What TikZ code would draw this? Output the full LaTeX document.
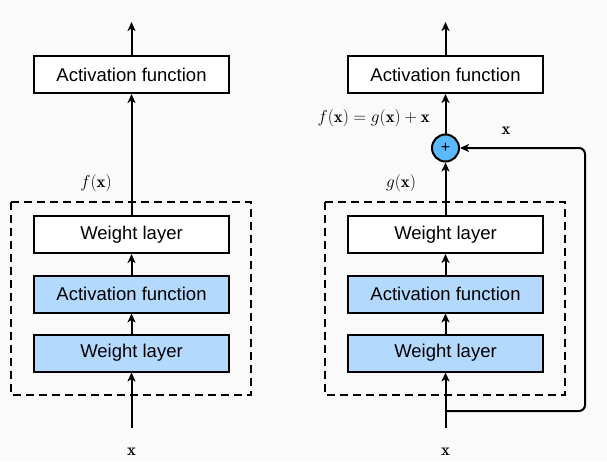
\documentclass[tikz,border=0pt]{standalone}
\usepackage{fontspec}
\setsansfont{Liberation Sans}
\usepackage{amsmath,bm}
\usetikzlibrary{arrows.meta}
\definecolor{bg}{HTML}{FAFAFA}
\definecolor{lblue}{HTML}{B3D9FF}
\definecolor{cblue}{HTML}{5CB8FF}
\begin{document}
\begin{tikzpicture}[x=1pt,y=-1pt,
  box/.style={draw=black,line width=2pt,minimum width=195pt,minimum height=37pt,inner sep=0pt,font=\sffamily\fontsize{18.5}{20}\selectfont},
  bbox/.style={box,fill=lblue},
  wbox/.style={box,fill=white},
  arr/.style={line width=2pt,-{Stealth[length=9pt,width=8pt,inset=2.5pt]}},
  dbox/.style={draw,line width=1.8pt,dash pattern=on 8pt off 5pt},
  lab/.style={font=\fontsize{16.8}{18}\selectfont,inner sep=0pt}]
\fill[bg] (0,0) rectangle (607,461);
\useasboundingbox (0,0) rectangle (607,461);
% left
\draw[dbox] (11,202) rectangle (251,395);
\node[wbox] (LA) at (131.5,74.5) {Activation function};
\node[wbox] (LW2) at (131.5,234.5) {Weight layer};
\node[bbox] (LAF) at (131.5,294) {Activation function};
\node[bbox] (LW1) at (131.5,353) {Weight layer};
\coordinate (Lin) at (131.5,428);
\coordinate (Lout) at (131.5,22);
\node[lab] (Lx) at (131.5,452) {$\mathbf{x}$};
\node[lab] (Lf) at (96,183) {$f(\mathbf{x})$};
\draw[arr] (Lin) -- (LW1);
\draw[arr] (LW1) -- (LAF);
\draw[arr] (LAF) -- (LW2);
\draw[arr] (LW2) -- (LA);
\draw[arr] (LA) -- (Lout);
% right
\draw[dbox] (325,202) rectangle (565,395);
\node[wbox] (RA) at (445.5,74.5) {Activation function};
\node[wbox] (RW2) at (445.5,234.5) {Weight layer};
\node[bbox] (RAF) at (445.5,294) {Activation function};
\node[bbox] (RW1) at (445.5,353) {Weight layer};
\node[circle,draw,line width=2pt,fill=cblue,minimum size=27pt,inner sep=0pt,font=\sffamily\fontsize{16}{16}\selectfont] (P) at (445.5,148) {+};
\coordinate (Rin) at (445.5,428);
\coordinate (Rout) at (445.5,22);
\coordinate (Rs) at (445.5,411);
\coordinate (Rc1) at (585,411);
\coordinate (Rc2) at (585,148);
\node[lab] (Rx) at (445.5,452) {$\mathbf{x}$};
\node[lab,anchor=east] (Rf) at (430,118) {$f(\mathbf{x}) = g(\mathbf{x}) + \mathbf{x}$};
\node[lab] (Rg) at (401,183) {$g(\mathbf{x})$};
\node[lab] (Rsx) at (506,131) {$\mathbf{x}$};
\draw[arr] (Rin) -- (RW1);
\draw[arr] (RW1) -- (RAF);
\draw[arr] (RAF) -- (RW2);
\draw[arr] (RW2) -- (P);
\draw[arr] (P) -- (RA);
\draw[arr] (RA) -- (Rout);
\draw[arr,rounded corners=6pt] (Rs) -- (Rc1) -- (Rc2) -- (P);
\end{tikzpicture}
\end{document}
